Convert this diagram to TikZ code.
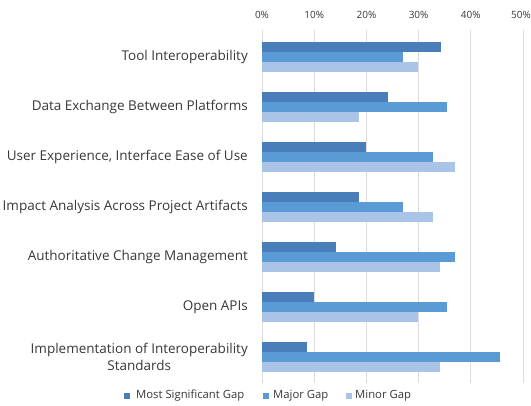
\documentclass[tikz,border=0pt]{standalone}
\usepackage{fontspec}
\setmainfont{Open Sans}
\definecolor{cdark}{HTML}{4A7EBB}
\definecolor{cmid}{HTML}{5B9BD5}
\definecolor{clight}{HTML}{A9C4E6}
\definecolor{cgrid}{HTML}{DCDCDC}
\definecolor{ctxt}{HTML}{383838}
\begin{document}
\begin{tikzpicture}[x=1pt,y=-1pt,
  gridline/.style={draw=cgrid, line width=0.8pt},
  ticklbl/.style={font=\fontsize{10}{12}\selectfont, text=ctxt, inner sep=0pt},
  catlbl/.style={font=\fontsize{13.5}{17}\selectfont, text=ctxt, anchor=east, align=center, inner sep=0pt},
  legsq/.style={minimum size=5.5pt, inner sep=0pt},
  leglbl/.style={font=\fontsize{11.3}{13}\selectfont, text=ctxt, anchor=west, inner sep=0pt}]
\useasboundingbox (0,0) rectangle (531,406);
\fill[white] (0,0) rectangle (531,406);
% grid and tick labels
\foreach \i/\t in {0/0,1/10,2/20,3/30,4/40}{
  \draw[gridline] ({262+52.2*\i},30) -- ({262+52.2*\i},383);
  \node[ticklbl] (tick\i) at ({262+52.2*\i},15) {\t\%};
}
\draw[gridline] (523,30) -- (523,383);
\node[ticklbl, anchor=east] (tick5) at (531,15) {50\%};
% bars: group index / dark / mid / light
\foreach \g/\a/\b/\c in {1/34.2/27.0/29.8, 2/24.1/35.5/18.5, 3/19.9/32.7/37.0, 4/18.5/27.0/32.7, 5/14.2/37.0/34.1, 6/10.0/35.5/29.8, 7/8.6/45.5/34.1}{
  \pgfmathsetmacro{\yc}{57+50*(\g-1)}
  \fill[cdark]  (262,\yc-15) rectangle ({262+5.22*\a},\yc-5);
  \fill[cmid]   (262,\yc-5)  rectangle ({262+5.22*\b},\yc+5);
  \fill[clight] (262,\yc+5)  rectangle ({262+5.22*\c},\yc+15);
}
% category labels
\node[catlbl] (c1) at (248,57)  {Tool Interoperability};
\node[catlbl] (c2) at (248,107) {Data Exchange Between Platforms};
\node[catlbl] (c3) at (248,157) {User Experience, Interface Ease of Use};
\node[catlbl] (c4) at (248,207) {Impact Analysis Across Project Artifacts};
\node[catlbl] (c5) at (248,257) {Authoritative Change Management};
\node[catlbl] (c6) at (248,307) {Open APIs};
\node[catlbl] (c7) at (248,357) {Implementation of Interoperability\\Standards};
% legend
\node[legsq, fill=cdark]  (s1) at (127,396) {};
\node[leglbl] (l1) at (136,396) {Most Significant Gap};
\node[legsq, fill=cmid]   (s2) at (266,396) {};
\node[leglbl] (l2) at (273,396) {Major Gap};
\node[legsq, fill=clight] (s3) at (349,396) {};
\node[leglbl] (l3) at (355,396) {Minor Gap};
\end{tikzpicture}
\end{document}
